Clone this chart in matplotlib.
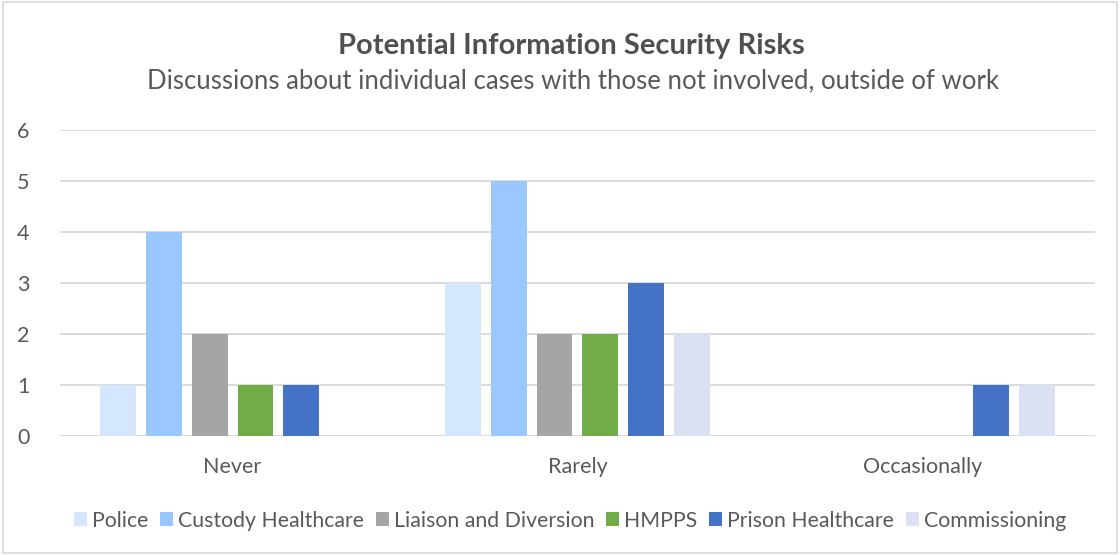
import matplotlib.pyplot as plt
import numpy as np
from matplotlib.patches import Rectangle

plt.rcParams['font.family'] = ['Lato', 'DejaVu Sans']

categories = ['Never', 'Rarely', 'Occasionally']
series = ['Police', 'Custody Healthcare', 'Liaison and Diversion', 'HMPPS',
          'Prison Healthcare', 'Commissioning']
values = {
    'Police': [1, 3, 0],
    'Custody Healthcare': [4, 5, 0],
    'Liaison and Diversion': [2, 2, 0],
    'HMPPS': [1, 2, 0],
    'Prison Healthcare': [1, 3, 1],
    'Commissioning': [0, 2, 1],
}
colors = ['#D5E7FE', '#99C7FE', '#A5A5A5', '#70AD47', '#4472C4', '#D9E1F2']

fig = plt.figure(figsize=(11.2, 5.55), dpi=100)
ax = fig.add_axes([0.0536, 0.2144, 0.924, 0.5514])

x = np.arange(len(categories))
step = 0.133
width = 0.104
for i, s in enumerate(series):
    offs = (i - 2.5) * step
    ax.bar(x + offs, values[s], width, color=colors[i], label=s, zorder=3)

ax.set_xlim(-0.5, 2.5)
ax.set_ylim(0, 6)
ax.set_yticks(range(7))
ax.yaxis.grid(True, color='#D9D9D9', linewidth=1.3, zorder=0)
ax.set_xticks(x)
ax.set_xticklabels(categories)
ax.tick_params(axis='both', length=0, labelsize=15.5, colors='#595959')
ax.tick_params(axis='x', pad=15)
ax.tick_params(axis='y', pad=22)
for sp in ax.spines.values():
    sp.set_visible(False)

fig.text(0.51, 0.918, 'Potential Information Security Risks', ha='center', va='center',
         fontsize=21, fontweight='bold', color='#505050')
fig.text(0.512, 0.855, 'Discussions about individual cases with those not involved, outside of work',
         ha='center', va='center', fontsize=18.5, color='#595959')

leg = fig.legend(loc='center', bbox_to_anchor=(0.509, 0.062), ncol=6, frameon=False,
                 fontsize=15.3, handlelength=0.6, handleheight=0.6, handletextpad=0.25,
                 columnspacing=0.55, labelcolor='#595959')

fig.patches.append(Rectangle((0.003, 0.003), 0.994, 0.994, transform=fig.transFigure,
                             fill=False, edgecolor='#D9D9D9', linewidth=1.2))

fig.savefig('out.png', dpi=100)
